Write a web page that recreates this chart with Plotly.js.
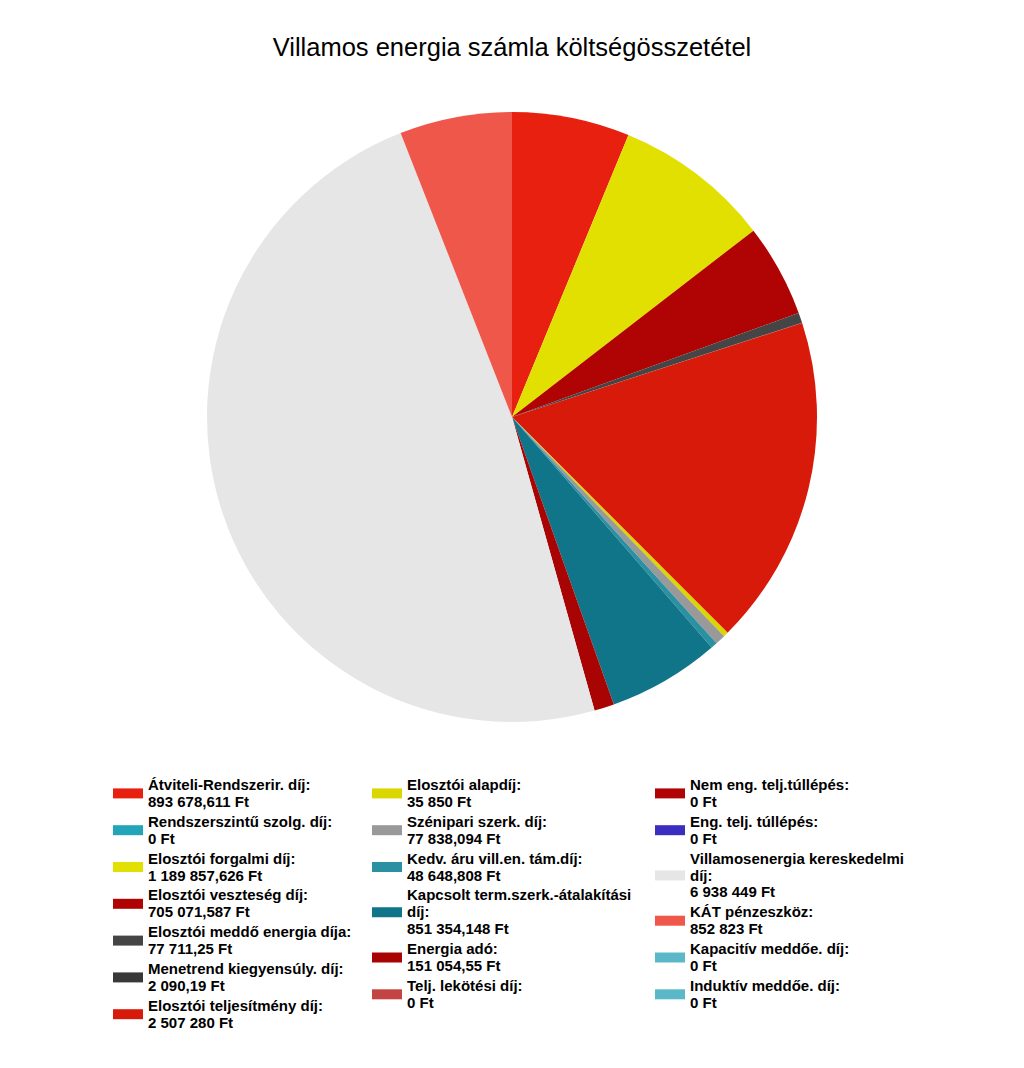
<!DOCTYPE html>
<html>
<head>
<meta charset="utf-8">
<script src="https://cdn.plot.ly/plotly-3.0.1.min.js"></script>
<style>
  html, body { margin: 0; padding: 0; background: #fff; }
  #chart { width: 1024px; height: 1068px; }
</style>
</head>
<body>
<div id="chart"></div>
<script>
// cost items, in pie order (clockwise from 12 o'clock)
var labels = [
    'Átviteli-Rendszerir. díj:',
    'Rendszerszintű szolg. díj:',
    'Elosztói forgalmi díj:',
    'Elosztói veszteség díj:',
    'Elosztói meddő energia díja:',
    'Menetrend kiegyensúly. díj:',
    'Elosztói teljesítmény díj:',
    'Elosztói alapdíj:',
    'Szénipari szerk. díj:',
    'Kedv. áru vill.en. tám.díj:',
    'Kapcsolt term.szerk.-átalakítási díj:',
    'Energia adó:',
    'Telj. lekötési díj:',
    'Nem eng. telj.túllépés:',
    'Eng. telj. túllépés:',
    'Villamosenergia kereskedelmi díj:',
    'KÁT pénzeszköz:',
    'Kapacitív meddőe. díj:',
    'Induktív meddőe. díj:'
];
var values = [
    893678.611, 0, 1189857.626, 705071.587, 77711.25, 2090.19, 2507280,
    35850, 77838.094, 48648.808, 851354.148, 151054.55, 0,
    0, 0, 6938449, 852823, 0, 0
];
var colors = [
    '#e8200f', '#22a5b8', '#e2e000', '#b00404', '#454545', '#383838', '#d81a0a',
    '#dad600', '#999999', '#2a90a2', '#11758a', '#a80404', '#c44444',
    '#b00404', '#3a2ec0', '#e6e6e6', '#f0574b', '#5bb8c8', '#5bb8c8'
];
// which legend column each item goes in
var legendCols = [
    'legend', 'legend', 'legend', 'legend', 'legend', 'legend', 'legend',
    'legend2', 'legend2', 'legend2', 'legend2', 'legend2', 'legend2',
    'legend3', 'legend3', 'legend3', 'legend3', 'legend3', 'legend3'
];

/**
 * Hungarian number format: space as thousands separator, comma decimals
 */
function huFormat(v) {
    var parts = String(v).split('.');
    var intPart = parts[0].replace(/\B(?=(\d{3})+(?!\d))/g, ' ');
    return parts.length > 1 ? intPart + ',' + parts[1] : intPart;
}

// long labels wrap before the last word, each line gets the bigger glyphs
function legendText(label, v) {
    var lines = [];
    if (label.length > 30) {
        var i = label.lastIndexOf(' ');
        lines.push(label.slice(0, i), label.slice(i + 1));
    } else {
        lines.push(label);
    }
    lines.push(huFormat(v) + ' Ft');
    return lines.map(function (l) {
        return '<span style="font-size:15px">' + l + '</span>';
    }).join('<br>');
}

var pie = {
    type: 'pie',
    labels: labels,
    values: values,
    sort: false,
    direction: 'clockwise',
    rotation: 0,
    textinfo: 'none',
    hoverinfo: 'label+value+percent',
    marker: { colors: colors, line: { width: 0 } },
    domain: { x: [0, 1], y: [(1068 - 722) / 1068, (1068 - 112) / 1068] },
    showlegend: false
};

var data = [pie];

// legend-only entries, one per cost item
for (var i = 0; i < labels.length; i++) {
    data.push({
        type: 'scatter',
        mode: 'lines',
        x: [null],
        y: [null],
        name: legendText(labels[i], values[i]),
        line: { color: colors[i], width: 12 },
        legend: legendCols[i],
        hoverinfo: 'skip',
        showlegend: true
    });
}

var legendBase = {
    orientation: 'v',
    xref: 'paper',
    yref: 'paper',
    xanchor: 'left',
    yanchor: 'top',
    y: 1 - 770 / 1068,
    bgcolor: 'rgba(0,0,0,0)',
    font: { family: 'Liberation Sans, Arial, sans-serif', size: 13, color: '#000', weight: 'bold' },
    tracegroupgap: 0,
    itemclick: false,
    itemdoubleclick: false
};

var layout = {
    width: 1024,
    height: 1068,
    margin: { l: 0, r: 0, t: 0, b: 0, autoexpand: false },
    paper_bgcolor: '#fff',
    plot_bgcolor: '#fff',
    font: { family: 'Liberation Sans, Arial, sans-serif', color: '#000' },
    title: {
        text: 'Villamos energia számla költségösszetétel',
        font: { size: 25.5, color: '#000' },
        x: 0.5,
        xanchor: 'center',
        y: 1 - 47 / 1068,
        yanchor: 'middle',
        yref: 'container'
    },
    xaxis: { visible: false },
    yaxis: { visible: false },
    legend: Object.assign({}, legendBase, { x: 108 / 1024 }),
    legend2: Object.assign({}, legendBase, { x: 367 / 1024 }),
    legend3: Object.assign({}, legendBase, { x: 650 / 1024 })
};

Plotly.newPlot('chart', data, layout, { displayModeBar: false });
</script>
</body>
</html>
